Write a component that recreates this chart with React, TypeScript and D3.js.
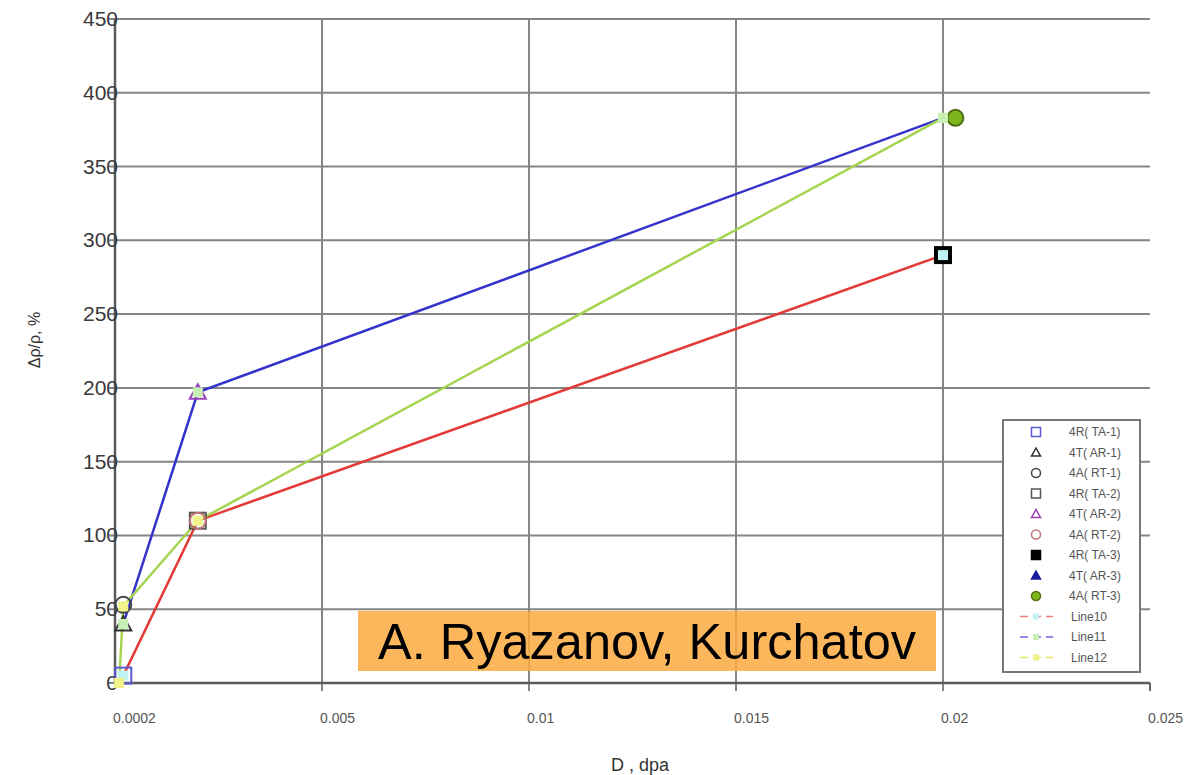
import React from "react";
import * as d3 from "d3";

const xTicks = [0, 0.005, 0.01, 0.015, 0.02, 0.025];
const xTickLabels = ["0.0002", "0.005", "0.01", "0.015", "0.02", "0.025"];
const yTicks = [0, 50, 100, 150, 200, 250, 300, 350, 400, 450];

const line10X = [0.0002, 0.002, 0.02];
const line10Y = [5, 110, 290];
const line11X = [0.0002, 0.002, 0.02];
const line11Y = [40, 197, 383];
const line12X = [0.0001, 0.0002, 0.002, 0.02];
const line12Y = [0, 52, 110, 383];

const scatterNames = ["4R( TA-1)", "4T( AR-1)", "4A( RT-1)", "4R( TA-2)", "4T( AR-2)", "4A( RT-2)", "4R( TA-3)", "4T( AR-3)", "4A( RT-3)"];
const scatterShapes = ["square", "triangle", "circle", "square", "triangle", "circle", "square", "triangle", "circle"];
const scatterX = [[0.0002], [0.0002], [0.0002], [0.002], [0.002], [0.002], [0.02], [], [0.0203]];
const scatterY = [[5], [40], [53], [110], [197], [110], [290], [], [383]];
const scatterStroke = ["#5a5ad0", "#333333", "#444444", "#555555", "#9a40b8", "#c07070", "#000000", "#1a1aa0", "#4f6e12"];
const scatterFill = ["none", "none", "none", "none", "none", "none", "#000000", "#1a1aa0", "#7db61c"];

const lineNames = ["Line10", "Line11", "Line12"];
const lineColors = ["#e23a36", "#3434cc", "#a6d450"];
const legendLineColors = ["#f08080", "#6a6ae0", "#e8e860"];
const lineMarkerFills = ["#bff2f2", "#c8f0b4", "#f2f28a"];
const markerDrawOrder = [0, 2, 1];

const W = 1200, H = 775;
const L = 115, R = 1150, T = 19, B = 683;

function Marker({ shape, cx, cy, size, stroke, fill, sw }: any) {
  const h = size / 2;
  if (shape === "square")
    return <rect x={cx - h} y={cy - h} width={size} height={size} stroke={stroke} fill={fill} strokeWidth={sw} />;
  if (shape === "circle")
    return <circle cx={cx} cy={cy} r={h} stroke={stroke} fill={fill} strokeWidth={sw} />;
  const pts = `${cx},${cy - h} ${cx + h},${cy + h * 0.8} ${cx - h},${cy + h * 0.8}`;
  return <polygon points={pts} stroke={stroke} fill={fill} strokeWidth={sw} />;
}

export default function App() {
  const x = d3.scaleLinear().domain([0, 0.025]).range([L, R]);
  const y = d3.scaleLinear().domain([0, 450]).range([B, T]);
  const lineGen = d3.line<[number, number]>().x((d) => x(d[0])).y((d) => y(d[1]));
  const lines = [
    d3.zip(line10X, line10Y) as [number, number][],
    d3.zip(line11X, line11Y) as [number, number][],
    d3.zip(line12X, line12Y) as [number, number][],
  ];
  const font = "'Liberation Sans', Arial, sans-serif";
  const legX = 1003, legY = 420, legW = 137, legH = 252;
  const rowY = (i: number) => 432 + i * 20.5;

  return (
    <svg width={W} height={H} style={{ position: "absolute", left: 0, top: 0, background: "#fff" }} fontFamily={font}>
      {yTicks.map((t) => (
        <line key={"h" + t} x1={L - 6} x2={R} y1={y(t)} y2={y(t)} stroke="#858585" strokeWidth={2} />
      ))}
      {xTicks.slice(1, 5).map((t) => (
        <line key={"v" + t} x1={x(t)} x2={x(t)} y1={T} y2={B + 8} stroke="#858585" strokeWidth={2} />
      ))}
      <line x1={x(0.025)} x2={x(0.025)} y1={B} y2={B + 8} stroke="#666" strokeWidth={2} />
      <line x1={L} x2={L} y1={T} y2={B} stroke="#5a5a5a" strokeWidth={2.5} />
      <line x1={L} x2={R} y1={B} y2={B} stroke="#5a5a5a" strokeWidth={2.5} />
      {yTicks.map((t) => (
        <text key={"yl" + t} x={L + 3} y={y(t) + 7} textAnchor="end" fontSize={21} fill="#3a3a3a">{t}</text>
      ))}
      {xTicks.map((t, i) => (
        <text key={"xl" + t} x={x(t) - 2} y={723} textAnchor="start" fontSize={14} fill="#555">{xTickLabels[i]}</text>
      ))}
      <text x={640} y={771} textAnchor="middle" fontSize={18} fill="#333">D , dpa</text>
      <text transform="translate(40,340) rotate(-90)" textAnchor="middle" fontSize={16} fill="#333">Δρ/ρ, %</text>

      <rect x={358} y={611} width={578} height={60} fill="#fca940" fillOpacity={0.85} />
      <text x={647} y={659} textAnchor="middle" fontSize={50.5} fill="#000">A. Ryazanov, Kurchatov</text>

      {lines.map((pts, i) => (
        <path key={"ln" + i} d={lineGen(pts) || ""} fill="none" stroke={lineColors[i]} strokeWidth={2.5} />
      ))}
      {scatterNames.map((n, i) =>
        scatterX[i].map((xv, j) => (
          <Marker key={n + j} shape={scatterShapes[i]} cx={x(xv)} cy={y(scatterY[i][j])} size={16}
            stroke={scatterStroke[i]} fill={scatterFill[i]} sw={2} />
        ))
      )}
      {markerDrawOrder.map((i) =>
        lines[i].map((p, j) => (
          <rect key={"lm" + i + j} x={x(p[0]) - 5} y={y(p[1]) - 5} width={10} height={10} fill={lineMarkerFills[i]} />
        ))
      )}

      <rect x={legX} y={legY} width={legW} height={legH} fill="#fff" stroke="#777" strokeWidth={2} />
      {scatterNames.map((n, i) => (
        <g key={"lg" + i}>
          <Marker shape={scatterShapes[i]} cx={1036} cy={rowY(i)} size={9} stroke={scatterStroke[i]}
            fill={scatterFill[i] === "none" ? "#fff" : scatterFill[i]} sw={1.5} />
          <text x={1069} y={rowY(i) + 4} fontSize={12} fill="#555">{n}</text>
        </g>
      ))}
      {lineNames.map((n, k) => {
        const i = 9 + k;
        return (
          <g key={"ll" + k}>
            <line x1={1020} x2={1053} y1={rowY(i)} y2={rowY(i)} stroke={legendLineColors[k]} strokeWidth={1.5} strokeDasharray="8,5" />
            <rect x={1033} y={rowY(i) - 3} width={6} height={6} fill={lineMarkerFills[k]} />
            <text x={1071} y={rowY(i) + 4} fontSize={12} fill="#555">{n}</text>
          </g>
        );
      })}
    </svg>
  );
}
